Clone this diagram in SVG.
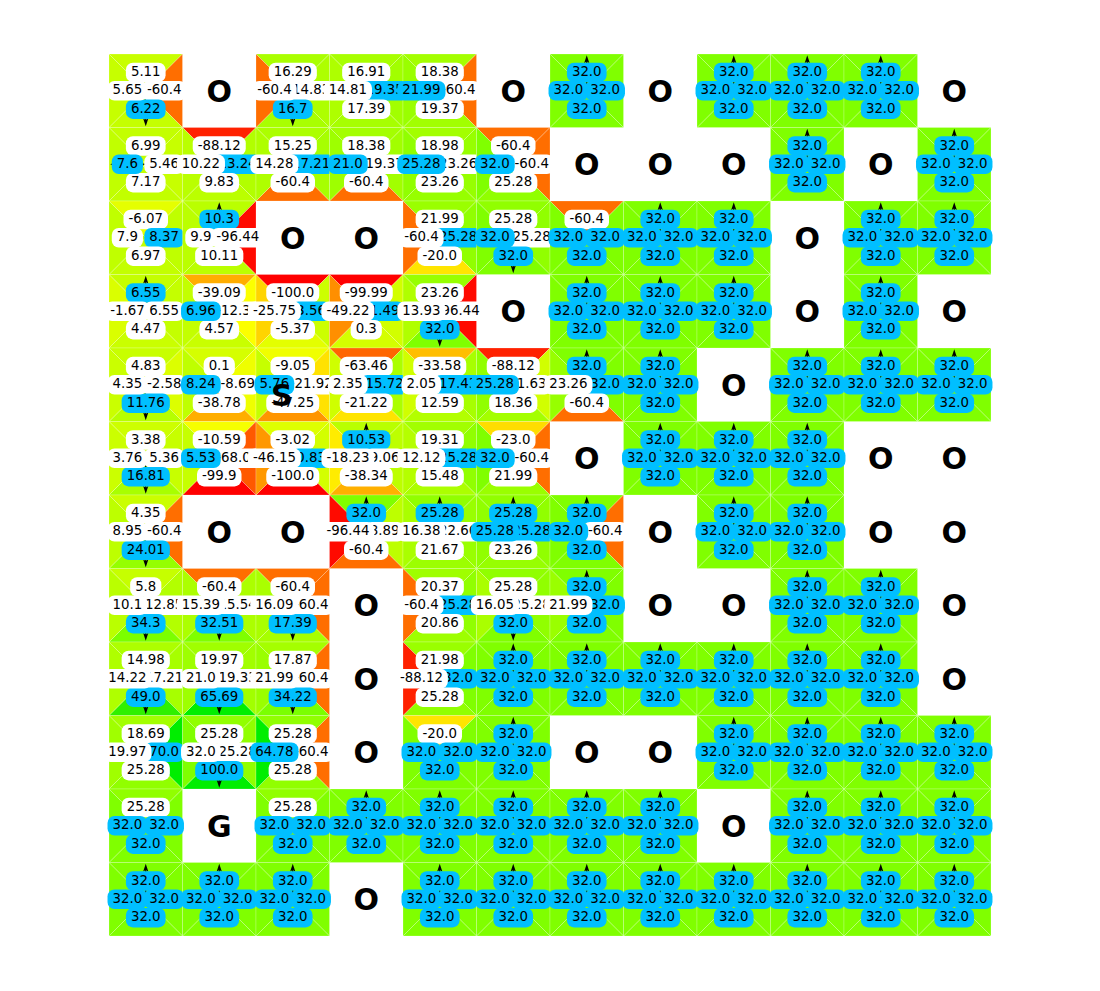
<svg xmlns="http://www.w3.org/2000/svg" width="1100" height="991" viewBox="0 0 1100 991">
<style>
text{font-family:"DejaVu Sans","Liberation Sans",sans-serif;font-size:13.33px;text-anchor:middle;fill:#000}
.big{font-size:30px;font-weight:bold}
.w{fill:#fff}
.q{fill:#00BFFF}
.t{stroke:#fff;stroke-opacity:.3;stroke-width:.7}
.ar{stroke:#000;stroke-width:1.2;fill:none}
.ah{fill:#000}
</style>
<rect width="1100" height="991" fill="#fff"/>
<defs>
<path id="tT" class="t" d="M0 0H73.5L36.75 36.75Z"/>
<path id="tR" class="t" d="M73.5 0V73.5L36.75 36.75Z"/>
<path id="tB" class="t" d="M0 73.5H73.5L36.75 36.75Z"/>
<path id="tL" class="t" d="M0 0V73.5L36.75 36.75Z"/>
<g id="aU"><path class="ar" d="M36.75 36.75V5"/><path class="ah" d="M36.75 1.2L39.4 9.2L36.75 7.3L34.1 9.2Z"/></g>
<g id="aD"><path class="ar" d="M36.75 36.75V68.5"/><path class="ah" d="M36.75 72.3L39.4 64.3L36.75 66.2L34.1 64.3Z"/></g>
<g id="aR"><path class="ar" d="M36.75 36.75H68.5"/><path class="ah" d="M72.3 36.75L64.3 34.1L66.2 36.75L64.3 39.4Z"/></g>
<g id="aL"><path class="ar" d="M36.75 36.75H5"/><path class="ah" d="M1.2 36.75L9.2 34.1L7.3 36.75L9.2 39.4Z"/></g>
<rect id="Ta" x="21.15" y="8.625" width="31.2" height="19.5" rx="7"/>
<rect id="Tb" x="16.9" y="8.625" width="39.7" height="19.5" rx="7"/>
<rect id="Td" x="12.65" y="8.625" width="48.2" height="19.5" rx="7"/>
<rect id="Te" x="14.5" y="8.625" width="44.5" height="19.5" rx="7"/>
<rect id="Tf" x="10.25" y="8.625" width="53" height="19.5" rx="7"/>
<rect id="Ba" x="21.15" y="45.375" width="31.2" height="19.5" rx="7"/>
<rect id="Bb" x="16.9" y="45.375" width="39.7" height="19.5" rx="7"/>
<rect id="Bd" x="12.65" y="45.375" width="48.2" height="19.5" rx="7"/>
<rect id="Be" x="14.5" y="45.375" width="44.5" height="19.5" rx="7"/>
<rect id="Bf" x="10.25" y="45.375" width="53" height="19.5" rx="7"/>
<rect id="Ra" x="39.525" y="27" width="31.2" height="19.5" rx="7"/>
<rect id="Rb" x="35.275" y="27" width="39.7" height="19.5" rx="7"/>
<rect id="Rd" x="31.025" y="27" width="48.2" height="19.5" rx="7"/>
<rect id="Re" x="32.875" y="27" width="44.5" height="19.5" rx="7"/>
<rect id="Rf" x="28.625" y="27" width="53" height="19.5" rx="7"/>
<rect id="La" x="2.775" y="27" width="31.2" height="19.5" rx="7"/>
<rect id="Lb" x="-1.475" y="27" width="39.7" height="19.5" rx="7"/>
<rect id="Ld" x="-5.725" y="27" width="48.2" height="19.5" rx="7"/>
<rect id="Le" x="-3.875" y="27" width="44.5" height="19.5" rx="7"/>
<rect id="Lf" x="-8.125" y="27" width="53" height="19.5" rx="7"/>
<g id="k32"><use href="#tT" fill="#80FF00"/><use href="#tR" fill="#80FF00"/><use href="#tB" fill="#80FF00"/><use href="#tL" fill="#80FF00"/><use href="#aU"/><use href="#Tb" class="q"/><use href="#Rb" class="q"/><use href="#Bb" class="q"/><use href="#Lb" class="q"/></g>
</defs>

<!-- Row 0 -->
<g id="r0c0" transform="translate(109,54)"><use href="#tT" fill="#C8FF00"/><use href="#tR" fill="#FF6E00"/><use href="#tB" fill="#C5FF00"/><use href="#tL" fill="#C6FF00"/><use href="#aD"/><use href="#Tb" class="w"/><text x="36.75" y="22">5.11</text><use href="#Re" class="w"/><text x="55.13" y="40.4">-60.4</text><use href="#Bb" class="q"/><text x="36.75" y="58.7">6.22</text><use href="#Lb" class="w"/><text x="18.38" y="40.4">5.65</text></g>
<g id="r0c1" transform="translate(182.5,54)"><text class="big" x="36.75" y="47.5">O</text></g>
<g id="r0c2" transform="translate(256,54)"><use href="#tT" fill="#AAFF00"/><use href="#tR" fill="#AEFF00"/><use href="#tB" fill="#A9FF00"/><use href="#tL" fill="#FF6E00"/><use href="#aD"/><use href="#Td" class="w"/><text x="36.75" y="22">16.29</text><use href="#Rd" class="w"/><text x="55.13" y="40.4">14.83</text><use href="#Bb" class="q"/><text x="36.75" y="58.7">16.7</text><use href="#Le" class="w"/><text x="18.38" y="40.4">-60.4</text></g>
<g id="r0c3" transform="translate(329.5,54)"><use href="#tT" fill="#A8FF00"/><use href="#tR" fill="#A2FF00"/><use href="#tB" fill="#A7FF00"/><use href="#tL" fill="#AEFF00"/><use href="#aR"/><use href="#Td" class="w"/><text x="36.75" y="22">16.91</text><use href="#Rd" class="q"/><text x="55.13" y="40.4">19.35</text><use href="#Bd" class="w"/><text x="36.75" y="58.7">17.39</text><use href="#Ld" class="w"/><text x="18.38" y="40.4">14.81</text></g>
<g id="r0c4" transform="translate(403,54)"><use href="#tT" fill="#A4FF00"/><use href="#tR" fill="#FF6E00"/><use href="#tB" fill="#A2FF00"/><use href="#tL" fill="#9AFF00"/><use href="#aL"/><use href="#Td" class="w"/><text x="36.75" y="22">18.38</text><use href="#Re" class="w"/><text x="55.13" y="40.4">-60.4</text><use href="#Bd" class="w"/><text x="36.75" y="58.7">19.37</text><use href="#Ld" class="q"/><text x="18.38" y="40.4">21.99</text></g>
<g id="r0c5" transform="translate(476.5,54)"><text class="big" x="36.75" y="47.5">O</text></g>
<g id="r0c6" transform="translate(550,54)"><use href="#k32"/><text x="36.75" y="22">32.0</text><text x="55.13" y="40.4">32.0</text><text x="36.75" y="58.7">32.0</text><text x="18.38" y="40.4">32.0</text></g>
<g id="r0c7" transform="translate(623.5,54)"><text class="big" x="36.75" y="47.5">O</text></g>
<g id="r0c8" transform="translate(697,54)"><use href="#k32"/><text x="36.75" y="22">32.0</text><text x="55.13" y="40.4">32.0</text><text x="36.75" y="58.7">32.0</text><text x="18.38" y="40.4">32.0</text></g>
<g id="r0c9" transform="translate(770.5,54)"><use href="#k32"/><text x="36.75" y="22">32.0</text><text x="55.13" y="40.4">32.0</text><text x="36.75" y="58.7">32.0</text><text x="18.38" y="40.4">32.0</text></g>
<g id="r0c10" transform="translate(844,54)"><use href="#k32"/><text x="36.75" y="22">32.0</text><text x="55.13" y="40.4">32.0</text><text x="36.75" y="58.7">32.0</text><text x="18.38" y="40.4">32.0</text></g>
<g id="r0c11" transform="translate(917.5,54)"><text class="big" x="36.75" y="47.5">O</text></g>

<!-- Row 1 -->
<g id="r1c0" transform="translate(109,127.5)"><use href="#tT" fill="#C3FF00"/><use href="#tR" fill="#C7FF00"/><use href="#tB" fill="#C2FF00"/><use href="#tL" fill="#C1FF00"/><use href="#aL"/><use href="#Tb" class="w"/><text x="36.75" y="22">6.99</text><use href="#Rb" class="w"/><text x="55.13" y="40.4">5.46</text><use href="#Bb" class="w"/><text x="36.75" y="58.7">7.17</text><use href="#La" class="q"/><text x="18.38" y="40.4">7.6</text></g>
<g id="r1c1" transform="translate(182.5,127.5)"><use href="#tT" fill="#FF2100"/><use href="#tR" fill="#B2FF00"/><use href="#tB" fill="#BBFF00"/><use href="#tL" fill="#BAFF00"/><use href="#aR"/><use href="#Tf" class="w"/><text x="36.75" y="22">-88.12</text><use href="#Rd" class="q"/><text x="55.13" y="40.4">13.24</text><use href="#Bb" class="w"/><text x="36.75" y="58.7">9.83</text><use href="#Ld" class="w"/><text x="18.38" y="40.4">10.22</text></g>
<g id="r1c2" transform="translate(256,127.5)"><use href="#tT" fill="#ACFF00"/><use href="#tR" fill="#A7FF00"/><use href="#tB" fill="#FF6E00"/><use href="#tL" fill="#AFFF00"/><use href="#aR"/><use href="#Td" class="w"/><text x="36.75" y="22">15.25</text><use href="#Rd" class="q"/><text x="55.13" y="40.4">17.21</text><use href="#Be" class="w"/><text x="36.75" y="58.7">-60.4</text><use href="#Ld" class="w"/><text x="18.38" y="40.4">14.28</text></g>
<g id="r1c3" transform="translate(329.5,127.5)"><use href="#tT" fill="#A4FF00"/><use href="#tR" fill="#A2FF00"/><use href="#tB" fill="#FF6E00"/><use href="#tL" fill="#9EFF00"/><use href="#aL"/><use href="#Td" class="w"/><text x="36.75" y="22">18.38</text><use href="#Rd" class="w"/><text x="55.13" y="40.4">19.37</text><use href="#Be" class="w"/><text x="36.75" y="58.7">-60.4</text><use href="#Lb" class="q"/><text x="18.38" y="40.4">21.0</text></g>
<g id="r1c4" transform="translate(403,127.5)"><use href="#tT" fill="#A3FF00"/><use href="#tR" fill="#97FF00"/><use href="#tB" fill="#97FF00"/><use href="#tL" fill="#91FF00"/><use href="#aL"/><use href="#Td" class="w"/><text x="36.75" y="22">18.98</text><use href="#Rd" class="w"/><text x="55.13" y="40.4">23.26</text><use href="#Bd" class="w"/><text x="36.75" y="58.7">23.26</text><use href="#Ld" class="q"/><text x="18.38" y="40.4">25.28</text></g>
<g id="r1c5" transform="translate(476.5,127.5)"><use href="#tT" fill="#FF6E00"/><use href="#tR" fill="#FF6E00"/><use href="#tB" fill="#91FF00"/><use href="#tL" fill="#80FF00"/><use href="#aL"/><use href="#Te" class="w"/><text x="36.75" y="22">-60.4</text><use href="#Re" class="w"/><text x="55.13" y="40.4">-60.4</text><use href="#Bd" class="w"/><text x="36.75" y="58.7">25.28</text><use href="#Lb" class="q"/><text x="18.38" y="40.4">32.0</text></g>
<g id="r1c6" transform="translate(550,127.5)"><text class="big" x="36.75" y="47.5">O</text></g>
<g id="r1c7" transform="translate(623.5,127.5)"><text class="big" x="36.75" y="47.5">O</text></g>
<g id="r1c8" transform="translate(697,127.5)"><text class="big" x="36.75" y="47.5">O</text></g>
<g id="r1c9" transform="translate(770.5,127.5)"><use href="#k32"/><text x="36.75" y="22">32.0</text><text x="55.13" y="40.4">32.0</text><text x="36.75" y="58.7">32.0</text><text x="18.38" y="40.4">32.0</text></g>
<g id="r1c10" transform="translate(844,127.5)"><text class="big" x="36.75" y="47.5">O</text></g>
<g id="r1c11" transform="translate(917.5,127.5)"><use href="#k32"/><text x="36.75" y="22">32.0</text><text x="55.13" y="40.4">32.0</text><text x="36.75" y="58.7">32.0</text><text x="18.38" y="40.4">32.0</text></g>

<!-- Row 2 -->
<g id="r2c0" transform="translate(109,201)"><use href="#tT" fill="#E5FF00"/><use href="#tR" fill="#BFFF00"/><use href="#tB" fill="#C3FF00"/><use href="#tL" fill="#C0FF00"/><use href="#aR"/><use href="#Te" class="w"/><text x="36.75" y="22">-6.07</text><use href="#Rb" class="q"/><text x="55.13" y="40.4">8.37</text><use href="#Bb" class="w"/><text x="36.75" y="58.7">6.97</text><use href="#La" class="w"/><text x="18.38" y="40.4">7.9</text></g>
<g id="r2c1" transform="translate(182.5,201)"><use href="#tT" fill="#BAFF00"/><use href="#tR" fill="#FF0A00"/><use href="#tB" fill="#BAFF00"/><use href="#tL" fill="#BBFF00"/><use href="#aU"/><use href="#Tb" class="q"/><text x="36.75" y="22">10.3</text><use href="#Rf" class="w"/><text x="55.13" y="40.4">-96.44</text><use href="#Bd" class="w"/><text x="36.75" y="58.7">10.11</text><use href="#La" class="w"/><text x="18.38" y="40.4">9.9</text></g>
<g id="r2c2" transform="translate(256,201)"><text class="big" x="36.75" y="47.5">O</text></g>
<g id="r2c3" transform="translate(329.5,201)"><text class="big" x="36.75" y="47.5">O</text></g>
<g id="r2c4" transform="translate(403,201)"><use href="#tT" fill="#9AFF00"/><use href="#tR" fill="#91FF00"/><use href="#tB" fill="#FFE500"/><use href="#tL" fill="#FF6E00"/><use href="#aR"/><use href="#Td" class="w"/><text x="36.75" y="22">21.99</text><use href="#Rd" class="q"/><text x="55.13" y="40.4">25.28</text><use href="#Be" class="w"/><text x="36.75" y="58.7">-20.0</text><use href="#Le" class="w"/><text x="18.38" y="40.4">-60.4</text></g>
<g id="r2c5" transform="translate(476.5,201)"><use href="#tT" fill="#91FF00"/><use href="#tR" fill="#91FF00"/><use href="#tB" fill="#80FF00"/><use href="#tL" fill="#80FF00"/><use href="#aD"/><use href="#Td" class="w"/><text x="36.75" y="22">25.28</text><use href="#Rd" class="w"/><text x="55.13" y="40.4">25.28</text><use href="#Bb" class="q"/><text x="36.75" y="58.7">32.0</text><use href="#Lb" class="q"/><text x="18.38" y="40.4">32.0</text></g>
<g id="r2c6" transform="translate(550,201)"><use href="#tT" fill="#FF6E00"/><use href="#tR" fill="#80FF00"/><use href="#tB" fill="#80FF00"/><use href="#tL" fill="#80FF00"/><use href="#aR"/><use href="#Te" class="w"/><text x="36.75" y="22">-60.4</text><use href="#Rb" class="q"/><text x="55.13" y="40.4">32.0</text><use href="#Bb" class="q"/><text x="36.75" y="58.7">32.0</text><use href="#Lb" class="q"/><text x="18.38" y="40.4">32.0</text></g>
<g id="r2c7" transform="translate(623.5,201)"><use href="#k32"/><text x="36.75" y="22">32.0</text><text x="55.13" y="40.4">32.0</text><text x="36.75" y="58.7">32.0</text><text x="18.38" y="40.4">32.0</text></g>
<g id="r2c8" transform="translate(697,201)"><use href="#k32"/><text x="36.75" y="22">32.0</text><text x="55.13" y="40.4">32.0</text><text x="36.75" y="58.7">32.0</text><text x="18.38" y="40.4">32.0</text></g>
<g id="r2c9" transform="translate(770.5,201)"><text class="big" x="36.75" y="47.5">O</text></g>
<g id="r2c10" transform="translate(844,201)"><use href="#k32"/><text x="36.75" y="22">32.0</text><text x="55.13" y="40.4">32.0</text><text x="36.75" y="58.7">32.0</text><text x="18.38" y="40.4">32.0</text></g>
<g id="r2c11" transform="translate(917.5,201)"><use href="#k32"/><text x="36.75" y="22">32.0</text><text x="55.13" y="40.4">32.0</text><text x="36.75" y="58.7">32.0</text><text x="18.38" y="40.4">32.0</text></g>

<!-- Row 3 -->
<g id="r3c0" transform="translate(109,274.5)"><use href="#tT" fill="#C4FF00"/><use href="#tR" fill="#C4FF00"/><use href="#tB" fill="#CAFF00"/><use href="#tL" fill="#DAFF00"/><use href="#aU"/><use href="#Tb" class="q"/><text x="36.75" y="22">6.55</text><use href="#Rb" class="w"/><text x="55.13" y="40.4">6.55</text><use href="#Bb" class="w"/><text x="36.75" y="58.7">4.47</text><use href="#Le" class="w"/><text x="18.38" y="40.4">-1.67</text></g>
<g id="r3c1" transform="translate(182.5,274.5)"><use href="#tT" fill="#FFAD00"/><use href="#tR" fill="#FCFF00"/><use href="#tB" fill="#C9FF00"/><use href="#tL" fill="#C3FF00"/><use href="#aL"/><use href="#Tf" class="w"/><text x="36.75" y="22">-39.09</text><use href="#Rf" class="w"/><text x="55.13" y="40.4">-12.35</text><use href="#Bb" class="w"/><text x="36.75" y="58.7">4.57</text><use href="#Lb" class="q"/><text x="18.38" y="40.4">6.96</text></g>
<g id="r3c2" transform="translate(256,274.5)"><use href="#tT" fill="#FF0000"/><use href="#tR" fill="#CCFF00"/><use href="#tB" fill="#E4FF00"/><use href="#tL" fill="#FFD400"/><use href="#aR"/><use href="#Tf" class="w"/><text x="36.75" y="22">-100.0</text><use href="#Rb" class="q"/><text x="55.13" y="40.4">3.56</text><use href="#Be" class="w"/><text x="36.75" y="58.7">-5.37</text><use href="#Lf" class="w"/><text x="18.38" y="40.4">-25.75</text></g>
<g id="r3c3" transform="translate(329.5,274.5)"><use href="#tT" fill="#FF0000"/><use href="#tR" fill="#D2FF00"/><use href="#tB" fill="#D4FF00"/><use href="#tL" fill="#FF8F00"/><use href="#aR"/><use href="#Tf" class="w"/><text x="36.75" y="22">-99.99</text><use href="#Rb" class="q"/><text x="55.13" y="40.4">1.49</text><use href="#Ba" class="w"/><text x="36.75" y="58.7">0.3</text><use href="#Lf" class="w"/><text x="18.38" y="40.4">-49.22</text></g>
<g id="r3c4" transform="translate(403,274.5)"><use href="#tT" fill="#97FF00"/><use href="#tR" fill="#FF0A00"/><use href="#tB" fill="#80FF00"/><use href="#tL" fill="#B0FF00"/><use href="#aD"/><use href="#Td" class="w"/><text x="36.75" y="22">23.26</text><use href="#Rf" class="w"/><text x="55.13" y="40.4">-96.44</text><use href="#Bb" class="q"/><text x="36.75" y="58.7">32.0</text><use href="#Ld" class="w"/><text x="18.38" y="40.4">13.93</text></g>
<g id="r3c5" transform="translate(476.5,274.5)"><text class="big" x="36.75" y="47.5">O</text></g>
<g id="r3c6" transform="translate(550,274.5)"><use href="#k32"/><text x="36.75" y="22">32.0</text><text x="55.13" y="40.4">32.0</text><text x="36.75" y="58.7">32.0</text><text x="18.38" y="40.4">32.0</text></g>
<g id="r3c7" transform="translate(623.5,274.5)"><use href="#k32"/><text x="36.75" y="22">32.0</text><text x="55.13" y="40.4">32.0</text><text x="36.75" y="58.7">32.0</text><text x="18.38" y="40.4">32.0</text></g>
<g id="r3c8" transform="translate(697,274.5)"><use href="#k32"/><text x="36.75" y="22">32.0</text><text x="55.13" y="40.4">32.0</text><text x="36.75" y="58.7">32.0</text><text x="18.38" y="40.4">32.0</text></g>
<g id="r3c9" transform="translate(770.5,274.5)"><text class="big" x="36.75" y="47.5">O</text></g>
<g id="r3c10" transform="translate(844,274.5)"><use href="#k32"/><text x="36.75" y="22">32.0</text><text x="55.13" y="40.4">32.0</text><text x="36.75" y="58.7">32.0</text><text x="18.38" y="40.4">32.0</text></g>
<g id="r3c11" transform="translate(917.5,274.5)"><text class="big" x="36.75" y="47.5">O</text></g>

<!-- Row 4 -->
<g id="r4c0" transform="translate(109,348)"><use href="#tT" fill="#C8FF00"/><use href="#tR" fill="#DCFF00"/><use href="#tB" fill="#B6FF00"/><use href="#tL" fill="#CAFF00"/><use href="#aD"/><use href="#Tb" class="w"/><text x="36.75" y="22">4.83</text><use href="#Re" class="w"/><text x="55.13" y="40.4">-2.58</text><use href="#Bd" class="q"/><text x="36.75" y="58.7">11.76</text><use href="#Lb" class="w"/><text x="18.38" y="40.4">4.35</text></g>
<g id="r4c1" transform="translate(182.5,348)"><use href="#tT" fill="#D5FF00"/><use href="#tR" fill="#EFFF00"/><use href="#tB" fill="#FFAE00"/><use href="#tL" fill="#BFFF00"/><use href="#aL"/><use href="#Ta" class="w"/><text x="36.75" y="22">0.1</text><use href="#Re" class="w"/><text x="55.13" y="40.4">-8.69</text><use href="#Bf" class="w"/><text x="36.75" y="58.7">-38.78</text><use href="#Lb" class="q"/><text x="18.38" y="40.4">8.24</text></g>
<g id="r4c2" transform="translate(256,348)"><use href="#tT" fill="#F0FF00"/><use href="#tR" fill="#FFE200"/><use href="#tB" fill="#FF9500"/><use href="#tL" fill="#C6FF00"/><use href="#aL"/><use href="#Te" class="w"/><text x="36.75" y="22">-9.05</text><use href="#Rf" class="w"/><text x="55.13" y="40.4">-21.92</text><use href="#Bf" class="w"/><text x="36.75" y="58.7">-47.25</text><use href="#Lb" class="q"/><text x="18.38" y="40.4">5.76</text><text class="big" x="25.7" y="57.5">S</text></g>
<g id="r4c3" transform="translate(329.5,348)"><use href="#tT" fill="#FF6600"/><use href="#tR" fill="#ABFF00"/><use href="#tB" fill="#FFE400"/><use href="#tL" fill="#CFFF00"/><use href="#aR"/><use href="#Tf" class="w"/><text x="36.75" y="22">-63.46</text><use href="#Rd" class="q"/><text x="55.13" y="40.4">15.72</text><use href="#Bf" class="w"/><text x="36.75" y="58.7">-21.22</text><use href="#Lb" class="w"/><text x="18.38" y="40.4">2.35</text></g>
<g id="r4c4" transform="translate(403,348)"><use href="#tT" fill="#FFBE00"/><use href="#tR" fill="#A7FF00"/><use href="#tB" fill="#B3FF00"/><use href="#tL" fill="#D0FF00"/><use href="#aR"/><use href="#Tf" class="w"/><text x="36.75" y="22">-33.58</text><use href="#Rd" class="q"/><text x="55.13" y="40.4">17.43</text><use href="#Bd" class="w"/><text x="36.75" y="58.7">12.59</text><use href="#Lb" class="w"/><text x="18.38" y="40.4">2.05</text></g>
<g id="r4c5" transform="translate(476.5,348)"><use href="#tT" fill="#FF2100"/><use href="#tR" fill="#D1FF00"/><use href="#tB" fill="#A4FF00"/><use href="#tL" fill="#91FF00"/><use href="#aL"/><use href="#Tf" class="w"/><text x="36.75" y="22">-88.12</text><use href="#Rb" class="w"/><text x="55.13" y="40.4">1.63</text><use href="#Bd" class="w"/><text x="36.75" y="58.7">18.36</text><use href="#Ld" class="q"/><text x="18.38" y="40.4">25.28</text></g>
<g id="r4c6" transform="translate(550,348)"><use href="#tT" fill="#80FF00"/><use href="#tR" fill="#80FF00"/><use href="#tB" fill="#FF6E00"/><use href="#tL" fill="#97FF00"/><use href="#aU"/><use href="#Tb" class="q"/><text x="36.75" y="22">32.0</text><use href="#Rb" class="q"/><text x="55.13" y="40.4">32.0</text><use href="#Be" class="w"/><text x="36.75" y="58.7">-60.4</text><use href="#Ld" class="w"/><text x="18.38" y="40.4">23.26</text></g>
<g id="r4c7" transform="translate(623.5,348)"><use href="#k32"/><text x="36.75" y="22">32.0</text><text x="55.13" y="40.4">32.0</text><text x="36.75" y="58.7">32.0</text><text x="18.38" y="40.4">32.0</text></g>
<g id="r4c8" transform="translate(697,348)"><text class="big" x="36.75" y="47.5">O</text></g>
<g id="r4c9" transform="translate(770.5,348)"><use href="#k32"/><text x="36.75" y="22">32.0</text><text x="55.13" y="40.4">32.0</text><text x="36.75" y="58.7">32.0</text><text x="18.38" y="40.4">32.0</text></g>
<g id="r4c10" transform="translate(844,348)"><use href="#k32"/><text x="36.75" y="22">32.0</text><text x="55.13" y="40.4">32.0</text><text x="36.75" y="58.7">32.0</text><text x="18.38" y="40.4">32.0</text></g>
<g id="r4c11" transform="translate(917.5,348)"><use href="#k32"/><text x="36.75" y="22">32.0</text><text x="55.13" y="40.4">32.0</text><text x="36.75" y="58.7">32.0</text><text x="18.38" y="40.4">32.0</text></g>

<!-- Row 5 -->
<g id="r5c0" transform="translate(109,421.5)"><use href="#tT" fill="#CDFF00"/><use href="#tR" fill="#C7FF00"/><use href="#tB" fill="#A8FF00"/><use href="#tL" fill="#CBFF00"/><use href="#aD"/><use href="#Tb" class="w"/><text x="36.75" y="22">3.38</text><use href="#Rb" class="w"/><text x="55.13" y="40.4">5.36</text><use href="#Bd" class="q"/><text x="36.75" y="58.7">16.81</text><use href="#Lb" class="w"/><text x="18.38" y="40.4">3.76</text></g>
<g id="r5c1" transform="translate(182.5,421.5)"><use href="#tT" fill="#F6FF00"/><use href="#tR" fill="#FF5900"/><use href="#tB" fill="#FF0000"/><use href="#tL" fill="#C6FF00"/><use href="#aL"/><use href="#Tf" class="w"/><text x="36.75" y="22">-10.59</text><use href="#Rf" class="w"/><text x="55.13" y="40.4">-68.03</text><use href="#Be" class="w"/><text x="36.75" y="58.7">-99.9</text><use href="#Lb" class="q"/><text x="18.38" y="40.4">5.53</text></g>
<g id="r5c2" transform="translate(256,421.5)"><use href="#tT" fill="#DEFF00"/><use href="#tR" fill="#D3FF00"/><use href="#tB" fill="#FF0000"/><use href="#tL" fill="#FF9800"/><use href="#aR"/><use href="#Te" class="w"/><text x="36.75" y="22">-3.02</text><use href="#Rb" class="q"/><text x="55.13" y="40.4">0.83</text><use href="#Bf" class="w"/><text x="36.75" y="58.7">-100.0</text><use href="#Lf" class="w"/><text x="18.38" y="40.4">-46.15</text></g>
<g id="r5c3" transform="translate(329.5,421.5)"><use href="#tT" fill="#B9FF00"/><use href="#tR" fill="#BDFF00"/><use href="#tB" fill="#FFB000"/><use href="#tL" fill="#FFEC00"/><use href="#aU"/><use href="#Td" class="q"/><text x="36.75" y="22">10.53</text><use href="#Rb" class="w"/><text x="55.13" y="40.4">9.06</text><use href="#Bf" class="w"/><text x="36.75" y="58.7">-38.34</text><use href="#Lf" class="w"/><text x="18.38" y="40.4">-18.23</text></g>
<g id="r5c4" transform="translate(403,421.5)"><use href="#tT" fill="#A2FF00"/><use href="#tR" fill="#91FF00"/><use href="#tB" fill="#ACFF00"/><use href="#tL" fill="#B5FF00"/><use href="#aR"/><use href="#Td" class="w"/><text x="36.75" y="22">19.31</text><use href="#Rd" class="q"/><text x="55.13" y="40.4">25.28</text><use href="#Bd" class="w"/><text x="36.75" y="58.7">15.48</text><use href="#Ld" class="w"/><text x="18.38" y="40.4">12.12</text></g>
<g id="r5c5" transform="translate(476.5,421.5)"><use href="#tT" fill="#FFDD00"/><use href="#tR" fill="#FF6E00"/><use href="#tB" fill="#9AFF00"/><use href="#tL" fill="#80FF00"/><use href="#aL"/><use href="#Te" class="w"/><text x="36.75" y="22">-23.0</text><use href="#Re" class="w"/><text x="55.13" y="40.4">-60.4</text><use href="#Bd" class="w"/><text x="36.75" y="58.7">21.99</text><use href="#Lb" class="q"/><text x="18.38" y="40.4">32.0</text></g>
<g id="r5c6" transform="translate(550,421.5)"><text class="big" x="36.75" y="47.5">O</text></g>
<g id="r5c7" transform="translate(623.5,421.5)"><use href="#k32"/><text x="36.75" y="22">32.0</text><text x="55.13" y="40.4">32.0</text><text x="36.75" y="58.7">32.0</text><text x="18.38" y="40.4">32.0</text></g>
<g id="r5c8" transform="translate(697,421.5)"><use href="#k32"/><text x="36.75" y="22">32.0</text><text x="55.13" y="40.4">32.0</text><text x="36.75" y="58.7">32.0</text><text x="18.38" y="40.4">32.0</text></g>
<g id="r5c9" transform="translate(770.5,421.5)"><use href="#k32"/><text x="36.75" y="22">32.0</text><text x="55.13" y="40.4">32.0</text><text x="36.75" y="58.7">32.0</text><text x="18.38" y="40.4">32.0</text></g>
<g id="r5c10" transform="translate(844,421.5)"><text class="big" x="36.75" y="47.5">O</text></g>
<g id="r5c11" transform="translate(917.5,421.5)"><text class="big" x="36.75" y="47.5">O</text></g>

<!-- Row 6 -->
<g id="r6c0" transform="translate(109,495)"><use href="#tT" fill="#CAFF00"/><use href="#tR" fill="#FF6E00"/><use href="#tB" fill="#95FF00"/><use href="#tL" fill="#BDFF00"/><use href="#aD"/><use href="#Tb" class="w"/><text x="36.75" y="22">4.35</text><use href="#Re" class="w"/><text x="55.13" y="40.4">-60.4</text><use href="#Bd" class="q"/><text x="36.75" y="58.7">24.01</text><use href="#Lb" class="w"/><text x="18.38" y="40.4">8.95</text></g>
<g id="r6c1" transform="translate(182.5,495)"><text class="big" x="36.75" y="47.5">O</text></g>
<g id="r6c2" transform="translate(256,495)"><text class="big" x="36.75" y="47.5">O</text></g>
<g id="r6c3" transform="translate(329.5,495)"><use href="#tT" fill="#80FF00"/><use href="#tR" fill="#BDFF00"/><use href="#tB" fill="#FF6E00"/><use href="#tL" fill="#FF0A00"/><use href="#aU"/><use href="#Tb" class="q"/><text x="36.75" y="22">32.0</text><use href="#Rb" class="w"/><text x="55.13" y="40.4">8.89</text><use href="#Be" class="w"/><text x="36.75" y="58.7">-60.4</text><use href="#Lf" class="w"/><text x="18.38" y="40.4">-96.44</text></g>
<g id="r6c4" transform="translate(403,495)"><use href="#tT" fill="#91FF00"/><use href="#tR" fill="#99FF00"/><use href="#tB" fill="#9CFF00"/><use href="#tL" fill="#AAFF00"/><use href="#aU"/><use href="#Td" class="q"/><text x="36.75" y="22">25.28</text><use href="#Rd" class="w"/><text x="55.13" y="40.4">22.66</text><use href="#Bd" class="w"/><text x="36.75" y="58.7">21.67</text><use href="#Ld" class="w"/><text x="18.38" y="40.4">16.38</text></g>
<g id="r6c5" transform="translate(476.5,495)"><use href="#tT" fill="#91FF00"/><use href="#tR" fill="#91FF00"/><use href="#tB" fill="#97FF00"/><use href="#tL" fill="#91FF00"/><use href="#aU"/><use href="#Td" class="q"/><text x="36.75" y="22">25.28</text><use href="#Rd" class="q"/><text x="55.13" y="40.4">25.28</text><use href="#Bd" class="w"/><text x="36.75" y="58.7">23.26</text><use href="#Ld" class="q"/><text x="18.38" y="40.4">25.28</text></g>
<g id="r6c6" transform="translate(550,495)"><use href="#tT" fill="#80FF00"/><use href="#tR" fill="#FF6E00"/><use href="#tB" fill="#80FF00"/><use href="#tL" fill="#80FF00"/><use href="#aU"/><use href="#Tb" class="q"/><text x="36.75" y="22">32.0</text><use href="#Re" class="w"/><text x="55.13" y="40.4">-60.4</text><use href="#Bb" class="q"/><text x="36.75" y="58.7">32.0</text><use href="#Lb" class="q"/><text x="18.38" y="40.4">32.0</text></g>
<g id="r6c7" transform="translate(623.5,495)"><text class="big" x="36.75" y="47.5">O</text></g>
<g id="r6c8" transform="translate(697,495)"><use href="#k32"/><text x="36.75" y="22">32.0</text><text x="55.13" y="40.4">32.0</text><text x="36.75" y="58.7">32.0</text><text x="18.38" y="40.4">32.0</text></g>
<g id="r6c9" transform="translate(770.5,495)"><use href="#k32"/><text x="36.75" y="22">32.0</text><text x="55.13" y="40.4">32.0</text><text x="36.75" y="58.7">32.0</text><text x="18.38" y="40.4">32.0</text></g>
<g id="r6c10" transform="translate(844,495)"><text class="big" x="36.75" y="47.5">O</text></g>
<g id="r6c11" transform="translate(917.5,495)"><text class="big" x="36.75" y="47.5">O</text></g>

<!-- Row 7 -->
<g id="r7c0" transform="translate(109,568.5)"><use href="#tT" fill="#C6FF00"/><use href="#tR" fill="#B3FF00"/><use href="#tB" fill="#7BFF00"/><use href="#tL" fill="#BAFF00"/><use href="#aD"/><use href="#Ta" class="w"/><text x="36.75" y="22">5.8</text><use href="#Rd" class="w"/><text x="55.13" y="40.4">12.85</text><use href="#Bb" class="q"/><text x="36.75" y="58.7">34.3</text><use href="#Lb" class="w"/><text x="18.38" y="40.4">10.1</text></g>
<g id="r7c1" transform="translate(182.5,568.5)"><use href="#tT" fill="#FF6E00"/><use href="#tR" fill="#ACFF00"/><use href="#tB" fill="#7FFF00"/><use href="#tL" fill="#ACFF00"/><use href="#aD"/><use href="#Te" class="w"/><text x="36.75" y="22">-60.4</text><use href="#Rd" class="w"/><text x="55.13" y="40.4">15.54</text><use href="#Bd" class="q"/><text x="36.75" y="58.7">32.51</text><use href="#Ld" class="w"/><text x="18.38" y="40.4">15.39</text></g>
<g id="r7c2" transform="translate(256,568.5)"><use href="#tT" fill="#FF6E00"/><use href="#tR" fill="#FF6E00"/><use href="#tB" fill="#A7FF00"/><use href="#tL" fill="#AAFF00"/><use href="#aD"/><use href="#Te" class="w"/><text x="36.75" y="22">-60.4</text><use href="#Re" class="w"/><text x="55.13" y="40.4">-60.4</text><use href="#Bd" class="q"/><text x="36.75" y="58.7">17.39</text><use href="#Ld" class="w"/><text x="18.38" y="40.4">16.09</text></g>
<g id="r7c3" transform="translate(329.5,568.5)"><text class="big" x="36.75" y="47.5">O</text></g>
<g id="r7c4" transform="translate(403,568.5)"><use href="#tT" fill="#9FFF00"/><use href="#tR" fill="#91FF00"/><use href="#tB" fill="#9EFF00"/><use href="#tL" fill="#FF6E00"/><use href="#aR"/><use href="#Td" class="w"/><text x="36.75" y="22">20.37</text><use href="#Rd" class="q"/><text x="55.13" y="40.4">25.28</text><use href="#Bd" class="w"/><text x="36.75" y="58.7">20.86</text><use href="#Le" class="w"/><text x="18.38" y="40.4">-60.4</text></g>
<g id="r7c5" transform="translate(476.5,568.5)"><use href="#tT" fill="#91FF00"/><use href="#tR" fill="#91FF00"/><use href="#tB" fill="#80FF00"/><use href="#tL" fill="#AAFF00"/><use href="#aD"/><use href="#Td" class="w"/><text x="36.75" y="22">25.28</text><use href="#Rd" class="w"/><text x="55.13" y="40.4">25.28</text><use href="#Bb" class="q"/><text x="36.75" y="58.7">32.0</text><use href="#Ld" class="w"/><text x="18.38" y="40.4">16.05</text></g>
<g id="r7c6" transform="translate(550,568.5)"><use href="#tT" fill="#80FF00"/><use href="#tR" fill="#80FF00"/><use href="#tB" fill="#80FF00"/><use href="#tL" fill="#9AFF00"/><use href="#aU"/><use href="#Tb" class="q"/><text x="36.75" y="22">32.0</text><use href="#Rb" class="q"/><text x="55.13" y="40.4">32.0</text><use href="#Bb" class="q"/><text x="36.75" y="58.7">32.0</text><use href="#Ld" class="w"/><text x="18.38" y="40.4">21.99</text></g>
<g id="r7c7" transform="translate(623.5,568.5)"><text class="big" x="36.75" y="47.5">O</text></g>
<g id="r7c8" transform="translate(697,568.5)"><text class="big" x="36.75" y="47.5">O</text></g>
<g id="r7c9" transform="translate(770.5,568.5)"><use href="#k32"/><text x="36.75" y="22">32.0</text><text x="55.13" y="40.4">32.0</text><text x="36.75" y="58.7">32.0</text><text x="18.38" y="40.4">32.0</text></g>
<g id="r7c10" transform="translate(844,568.5)"><use href="#k32"/><text x="36.75" y="22">32.0</text><text x="55.13" y="40.4">32.0</text><text x="36.75" y="58.7">32.0</text><text x="18.38" y="40.4">32.0</text></g>
<g id="r7c11" transform="translate(917.5,568.5)"><text class="big" x="36.75" y="47.5">O</text></g>

<!-- Row 8 -->
<g id="r8c0" transform="translate(109,642)"><use href="#tT" fill="#ADFF00"/><use href="#tR" fill="#A7FF00"/><use href="#tB" fill="#30F000"/><use href="#tL" fill="#AFFF00"/><use href="#aD"/><use href="#Td" class="w"/><text x="36.75" y="22">14.98</text><use href="#Rd" class="w"/><text x="55.13" y="40.4">17.21</text><use href="#Bb" class="q"/><text x="36.75" y="58.7">49.0</text><use href="#Ld" class="w"/><text x="18.38" y="40.4">14.22</text></g>
<g id="r8c1" transform="translate(182.5,642)"><use href="#tT" fill="#A0FF00"/><use href="#tR" fill="#A2FF00"/><use href="#tB" fill="#00EE00"/><use href="#tL" fill="#9EFF00"/><use href="#aD"/><use href="#Td" class="w"/><text x="36.75" y="22">19.97</text><use href="#Rd" class="w"/><text x="55.13" y="40.4">19.33</text><use href="#Bd" class="q"/><text x="36.75" y="58.7">65.69</text><use href="#Lb" class="w"/><text x="18.38" y="40.4">21.0</text></g>
<g id="r8c2" transform="translate(256,642)"><use href="#tT" fill="#A5FF00"/><use href="#tR" fill="#FF6E00"/><use href="#tB" fill="#7BFF00"/><use href="#tL" fill="#9AFF00"/><use href="#aD"/><use href="#Td" class="w"/><text x="36.75" y="22">17.87</text><use href="#Re" class="w"/><text x="55.13" y="40.4">-60.4</text><use href="#Bd" class="q"/><text x="36.75" y="58.7">34.22</text><use href="#Ld" class="w"/><text x="18.38" y="40.4">21.99</text></g>
<g id="r8c3" transform="translate(329.5,642)"><text class="big" x="36.75" y="47.5">O</text></g>
<g id="r8c4" transform="translate(403,642)"><use href="#tT" fill="#9AFF00"/><use href="#tR" fill="#80FF00"/><use href="#tB" fill="#91FF00"/><use href="#tL" fill="#FF2100"/><use href="#aR"/><use href="#Td" class="w"/><text x="36.75" y="22">21.98</text><use href="#Rb" class="q"/><text x="55.13" y="40.4">32.0</text><use href="#Bd" class="w"/><text x="36.75" y="58.7">25.28</text><use href="#Lf" class="w"/><text x="18.38" y="40.4">-88.12</text></g>
<g id="r8c5" transform="translate(476.5,642)"><use href="#k32"/><text x="36.75" y="22">32.0</text><text x="55.13" y="40.4">32.0</text><text x="36.75" y="58.7">32.0</text><text x="18.38" y="40.4">32.0</text></g>
<g id="r8c6" transform="translate(550,642)"><use href="#k32"/><text x="36.75" y="22">32.0</text><text x="55.13" y="40.4">32.0</text><text x="36.75" y="58.7">32.0</text><text x="18.38" y="40.4">32.0</text></g>
<g id="r8c7" transform="translate(623.5,642)"><use href="#k32"/><text x="36.75" y="22">32.0</text><text x="55.13" y="40.4">32.0</text><text x="36.75" y="58.7">32.0</text><text x="18.38" y="40.4">32.0</text></g>
<g id="r8c8" transform="translate(697,642)"><use href="#k32"/><text x="36.75" y="22">32.0</text><text x="55.13" y="40.4">32.0</text><text x="36.75" y="58.7">32.0</text><text x="18.38" y="40.4">32.0</text></g>
<g id="r8c9" transform="translate(770.5,642)"><use href="#k32"/><text x="36.75" y="22">32.0</text><text x="55.13" y="40.4">32.0</text><text x="36.75" y="58.7">32.0</text><text x="18.38" y="40.4">32.0</text></g>
<g id="r8c10" transform="translate(844,642)"><use href="#k32"/><text x="36.75" y="22">32.0</text><text x="55.13" y="40.4">32.0</text><text x="36.75" y="58.7">32.0</text><text x="18.38" y="40.4">32.0</text></g>
<g id="r8c11" transform="translate(917.5,642)"><text class="big" x="36.75" y="47.5">O</text></g>

<!-- Row 9 -->
<g id="r9c0" transform="translate(109,715.5)"><use href="#tT" fill="#A3FF00"/><use href="#tR" fill="#00EE00"/><use href="#tB" fill="#91FF00"/><use href="#tL" fill="#A0FF00"/><use href="#aR"/><use href="#Td" class="w"/><text x="36.75" y="22">18.69</text><use href="#Rb" class="q"/><text x="55.13" y="40.4">70.0</text><use href="#Bd" class="w"/><text x="36.75" y="58.7">25.28</text><use href="#Ld" class="w"/><text x="18.38" y="40.4">19.97</text></g>
<g id="r9c1" transform="translate(182.5,715.5)"><use href="#tT" fill="#91FF00"/><use href="#tR" fill="#91FF00"/><use href="#tB" fill="#00EE00"/><use href="#tL" fill="#80FF00"/><use href="#aD"/><use href="#Td" class="w"/><text x="36.75" y="22">25.28</text><use href="#Rd" class="w"/><text x="55.13" y="40.4">25.28</text><use href="#Bd" class="q"/><text x="36.75" y="58.7">100.0</text><use href="#Lb" class="w"/><text x="18.38" y="40.4">32.0</text></g>
<g id="r9c2" transform="translate(256,715.5)"><use href="#tT" fill="#91FF00"/><use href="#tR" fill="#FF6E00"/><use href="#tB" fill="#91FF00"/><use href="#tL" fill="#00EE00"/><use href="#aL"/><use href="#Td" class="w"/><text x="36.75" y="22">25.28</text><use href="#Re" class="w"/><text x="55.13" y="40.4">-60.4</text><use href="#Bd" class="w"/><text x="36.75" y="58.7">25.28</text><use href="#Ld" class="q"/><text x="18.38" y="40.4">64.78</text></g>
<g id="r9c3" transform="translate(329.5,715.5)"><text class="big" x="36.75" y="47.5">O</text></g>
<g id="r9c4" transform="translate(403,715.5)"><use href="#tT" fill="#FFE500"/><use href="#tR" fill="#80FF00"/><use href="#tB" fill="#80FF00"/><use href="#tL" fill="#80FF00"/><use href="#aR"/><use href="#Te" class="w"/><text x="36.75" y="22">-20.0</text><use href="#Rb" class="q"/><text x="55.13" y="40.4">32.0</text><use href="#Bb" class="q"/><text x="36.75" y="58.7">32.0</text><use href="#Lb" class="q"/><text x="18.38" y="40.4">32.0</text></g>
<g id="r9c5" transform="translate(476.5,715.5)"><use href="#k32"/><text x="36.75" y="22">32.0</text><text x="55.13" y="40.4">32.0</text><text x="36.75" y="58.7">32.0</text><text x="18.38" y="40.4">32.0</text></g>
<g id="r9c6" transform="translate(550,715.5)"><text class="big" x="36.75" y="47.5">O</text></g>
<g id="r9c7" transform="translate(623.5,715.5)"><text class="big" x="36.75" y="47.5">O</text></g>
<g id="r9c8" transform="translate(697,715.5)"><use href="#k32"/><text x="36.75" y="22">32.0</text><text x="55.13" y="40.4">32.0</text><text x="36.75" y="58.7">32.0</text><text x="18.38" y="40.4">32.0</text></g>
<g id="r9c9" transform="translate(770.5,715.5)"><use href="#k32"/><text x="36.75" y="22">32.0</text><text x="55.13" y="40.4">32.0</text><text x="36.75" y="58.7">32.0</text><text x="18.38" y="40.4">32.0</text></g>
<g id="r9c10" transform="translate(844,715.5)"><use href="#k32"/><text x="36.75" y="22">32.0</text><text x="55.13" y="40.4">32.0</text><text x="36.75" y="58.7">32.0</text><text x="18.38" y="40.4">32.0</text></g>
<g id="r9c11" transform="translate(917.5,715.5)"><use href="#k32"/><text x="36.75" y="22">32.0</text><text x="55.13" y="40.4">32.0</text><text x="36.75" y="58.7">32.0</text><text x="18.38" y="40.4">32.0</text></g>

<!-- Row 10 -->
<g id="r10c0" transform="translate(109,789)"><use href="#tT" fill="#91FF00"/><use href="#tR" fill="#80FF00"/><use href="#tB" fill="#80FF00"/><use href="#tL" fill="#80FF00"/><use href="#aR"/><use href="#Td" class="w"/><text x="36.75" y="22">25.28</text><use href="#Rb" class="q"/><text x="55.13" y="40.4">32.0</text><use href="#Bb" class="q"/><text x="36.75" y="58.7">32.0</text><use href="#Lb" class="q"/><text x="18.38" y="40.4">32.0</text></g>
<g id="r10c1" transform="translate(182.5,789)"><text class="big" x="36.75" y="47.5">G</text></g>
<g id="r10c2" transform="translate(256,789)"><use href="#tT" fill="#91FF00"/><use href="#tR" fill="#80FF00"/><use href="#tB" fill="#80FF00"/><use href="#tL" fill="#80FF00"/><use href="#aR"/><use href="#Td" class="w"/><text x="36.75" y="22">25.28</text><use href="#Rb" class="q"/><text x="55.13" y="40.4">32.0</text><use href="#Bb" class="q"/><text x="36.75" y="58.7">32.0</text><use href="#Lb" class="q"/><text x="18.38" y="40.4">32.0</text></g>
<g id="r10c3" transform="translate(329.5,789)"><use href="#k32"/><text x="36.75" y="22">32.0</text><text x="55.13" y="40.4">32.0</text><text x="36.75" y="58.7">32.0</text><text x="18.38" y="40.4">32.0</text></g>
<g id="r10c4" transform="translate(403,789)"><use href="#k32"/><text x="36.75" y="22">32.0</text><text x="55.13" y="40.4">32.0</text><text x="36.75" y="58.7">32.0</text><text x="18.38" y="40.4">32.0</text></g>
<g id="r10c5" transform="translate(476.5,789)"><use href="#k32"/><text x="36.75" y="22">32.0</text><text x="55.13" y="40.4">32.0</text><text x="36.75" y="58.7">32.0</text><text x="18.38" y="40.4">32.0</text></g>
<g id="r10c6" transform="translate(550,789)"><use href="#k32"/><text x="36.75" y="22">32.0</text><text x="55.13" y="40.4">32.0</text><text x="36.75" y="58.7">32.0</text><text x="18.38" y="40.4">32.0</text></g>
<g id="r10c7" transform="translate(623.5,789)"><use href="#k32"/><text x="36.75" y="22">32.0</text><text x="55.13" y="40.4">32.0</text><text x="36.75" y="58.7">32.0</text><text x="18.38" y="40.4">32.0</text></g>
<g id="r10c8" transform="translate(697,789)"><text class="big" x="36.75" y="47.5">O</text></g>
<g id="r10c9" transform="translate(770.5,789)"><use href="#k32"/><text x="36.75" y="22">32.0</text><text x="55.13" y="40.4">32.0</text><text x="36.75" y="58.7">32.0</text><text x="18.38" y="40.4">32.0</text></g>
<g id="r10c10" transform="translate(844,789)"><use href="#k32"/><text x="36.75" y="22">32.0</text><text x="55.13" y="40.4">32.0</text><text x="36.75" y="58.7">32.0</text><text x="18.38" y="40.4">32.0</text></g>
<g id="r10c11" transform="translate(917.5,789)"><use href="#k32"/><text x="36.75" y="22">32.0</text><text x="55.13" y="40.4">32.0</text><text x="36.75" y="58.7">32.0</text><text x="18.38" y="40.4">32.0</text></g>

<!-- Row 11 -->
<g id="r11c0" transform="translate(109,862.5)"><use href="#k32"/><text x="36.75" y="22">32.0</text><text x="55.13" y="40.4">32.0</text><text x="36.75" y="58.7">32.0</text><text x="18.38" y="40.4">32.0</text></g>
<g id="r11c1" transform="translate(182.5,862.5)"><use href="#k32"/><text x="36.75" y="22">32.0</text><text x="55.13" y="40.4">32.0</text><text x="36.75" y="58.7">32.0</text><text x="18.38" y="40.4">32.0</text></g>
<g id="r11c2" transform="translate(256,862.5)"><use href="#k32"/><text x="36.75" y="22">32.0</text><text x="55.13" y="40.4">32.0</text><text x="36.75" y="58.7">32.0</text><text x="18.38" y="40.4">32.0</text></g>
<g id="r11c3" transform="translate(329.5,862.5)"><text class="big" x="36.75" y="47.5">O</text></g>
<g id="r11c4" transform="translate(403,862.5)"><use href="#k32"/><text x="36.75" y="22">32.0</text><text x="55.13" y="40.4">32.0</text><text x="36.75" y="58.7">32.0</text><text x="18.38" y="40.4">32.0</text></g>
<g id="r11c5" transform="translate(476.5,862.5)"><use href="#k32"/><text x="36.75" y="22">32.0</text><text x="55.13" y="40.4">32.0</text><text x="36.75" y="58.7">32.0</text><text x="18.38" y="40.4">32.0</text></g>
<g id="r11c6" transform="translate(550,862.5)"><use href="#k32"/><text x="36.75" y="22">32.0</text><text x="55.13" y="40.4">32.0</text><text x="36.75" y="58.7">32.0</text><text x="18.38" y="40.4">32.0</text></g>
<g id="r11c7" transform="translate(623.5,862.5)"><use href="#k32"/><text x="36.75" y="22">32.0</text><text x="55.13" y="40.4">32.0</text><text x="36.75" y="58.7">32.0</text><text x="18.38" y="40.4">32.0</text></g>
<g id="r11c8" transform="translate(697,862.5)"><use href="#k32"/><text x="36.75" y="22">32.0</text><text x="55.13" y="40.4">32.0</text><text x="36.75" y="58.7">32.0</text><text x="18.38" y="40.4">32.0</text></g>
<g id="r11c9" transform="translate(770.5,862.5)"><use href="#k32"/><text x="36.75" y="22">32.0</text><text x="55.13" y="40.4">32.0</text><text x="36.75" y="58.7">32.0</text><text x="18.38" y="40.4">32.0</text></g>
<g id="r11c10" transform="translate(844,862.5)"><use href="#k32"/><text x="36.75" y="22">32.0</text><text x="55.13" y="40.4">32.0</text><text x="36.75" y="58.7">32.0</text><text x="18.38" y="40.4">32.0</text></g>
<g id="r11c11" transform="translate(917.5,862.5)"><use href="#k32"/><text x="36.75" y="22">32.0</text><text x="55.13" y="40.4">32.0</text><text x="36.75" y="58.7">32.0</text><text x="18.38" y="40.4">32.0</text></g>
</svg>
